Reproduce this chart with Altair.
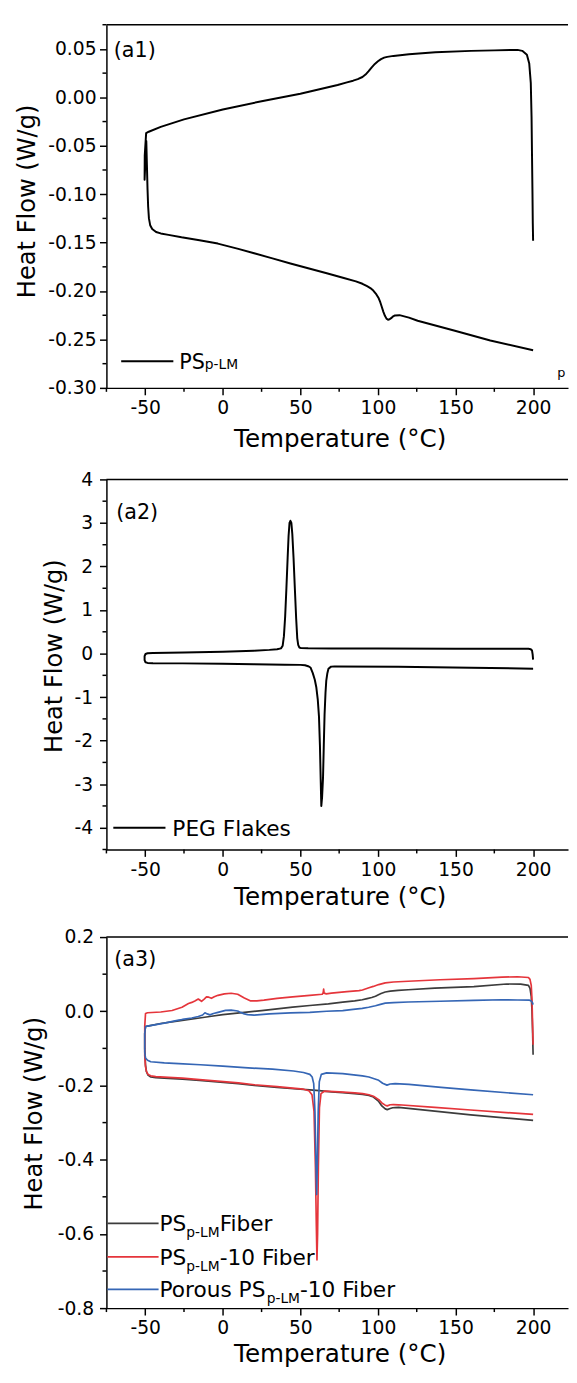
import altair as alt
import pandas as pd

FONT = "DejaVu Sans"
MINUS = "\u2212"

# ---------------- (a1) PS p-LM : one closed DSC path (cool then heat) ----------------
A1_T = [200, 199.8, 199.6, 199.3, 199.0, 198.5, 197.5, 196, 193, 190, 175, 160, 137, 120, 110, 106,
        104, 102, 100, 98, 96, 94, 92, 90, 87, 84, 80, 74, 50, 25, 0, -25, -40, -47.7, -49.4, -50.3,
        -50.4, -49.3, -48.9, -48.5, -48.1, -47.6, -46.8, -45.5, -43, -40, -35, -26.6, -15, -3.2, 10,
        20.2, 32, 43.6, 55, 67, 78, 85.8, 90, 93, 95.1, 97, 99, 100.5, 101.5, 102.5, 103.5, 104.5,
        105.5, 106.5, 107.5, 108.5, 109.5, 111, 113.9, 120, 125.6, 149, 172.4, 200]
A1_HF = [-0.148, -0.13, -0.10, -0.06, -0.02, 0.015, 0.035, 0.044, 0.048, 0.049, 0.0485, 0.048,
         0.0466, 0.0445, 0.0428, 0.0418, 0.0410, 0.0395, 0.0372, 0.0345, 0.031, 0.027, 0.0235,
         0.021, 0.0188, 0.0172, 0.0155, 0.0128, 0.0037, -0.004, -0.0126, -0.0227, -0.0305, -0.0355,
         -0.037, -0.06, -0.085, -0.045, -0.07, -0.095, -0.113, -0.125, -0.132, -0.136, -0.139,
         -0.1405, -0.142, -0.1445, -0.1475, -0.151, -0.1565, -0.161, -0.1663, -0.1715, -0.1765,
         -0.1817, -0.1865, -0.190, -0.1925, -0.195, -0.1969, -0.1995, -0.2035, -0.2075, -0.2115,
         -0.2165, -0.2215, -0.2256, -0.2285, -0.2296, -0.2292, -0.228, -0.2265, -0.2252, -0.2249,
         -0.2275, -0.2307, -0.2408, -0.251, -0.2611]

# ---------------- (a2) PEG flakes ----------------
A2_T = [200, 199.7, 199.3, 198.5, 197, 150, 100, 70, 55, 50.5, 49.3, 48.6, 48.0, 47.3, 46.5, 45.6,
        44.8, 44.2, 43.6, 43.0, 42.4, 41.8, 41.0, 40.2, 39.4, 38.6, 37.5, 35, 30, 20, 0, -25, -45,
        -48.5, -49.8, -50.4, -50.4, -49.8, -48.5, -45, -26, 0, 20, 40, 50, 53, 55, 56.5, 58, 59.3,
        60.3, 61.2, 62.0, 62.6, 63.1, 63.5, 64.0, 64.6, 65.1, 65.6, 66.2, 66.7, 67.4, 68.1, 69.8,
        72, 113, 160, 200]
A2_HF = [-0.14, -0.02, 0.07, 0.10, 0.11, 0.11, 0.115, 0.118, 0.12, 0.125, 0.14, 0.2, 0.35, 0.8,
         1.45, 2.2, 2.75, 3.0, 3.05, 3.0, 2.7, 2.2, 1.5, 0.85, 0.4, 0.18, 0.12, 0.10, 0.085, 0.065,
         0.04, 0.022, 0.012, 0.006, -0.01, -0.06, -0.15, -0.2, -0.215, -0.22, -0.225, -0.235,
         -0.245, -0.255, -0.26, -0.27, -0.29, -0.32, -0.45, -0.6, -0.78, -1.05, -1.45, -2.1, -2.9,
         -3.5, -3.3, -2.85, -2.1, -1.4, -0.9, -0.62, -0.45, -0.35, -0.3, -0.295, -0.305, -0.325,
         -0.348]

# ---------------- (a3) fibers ----------------
A3_FIBER_T = [200, 199.7, 199.3, 198.8, 198, 197, 192, 183, 161.8, 136.6, 119.5, 113, 108, 104.7,
              102, 100, 98.4, 96, 93, 89.9, 85, 77.3, 68, 56.1, 45, 35, 25, 13.9, 0, -7.3, -15,
              -28.4, -40, -48.5, -49.8, -50.3, -50.3, -49.8, -49.2, -48.2, -46.4, -43.2, -35, -26,
              -15, -7.3, 10, 20.4, 35, 43.6, 56.1, 62.2, 70, 77.3, 85, 90.1, 94.2, 97.1, 100.5,
              102.5, 104.7, 106, 107.9, 109.5, 111, 113.3, 136.6, 159.8, 200]
A3_FIBER_HF = [-0.117, -0.06, 0.0, 0.04, 0.062, 0.070, 0.073, 0.0735, 0.0666, 0.0625, 0.058,
               0.0565, 0.0545, 0.052, 0.048, 0.044, 0.0405, 0.037, 0.034, 0.031, 0.028, 0.0245,
               0.020, 0.0155, 0.011, 0.0065, 0.002, -0.003, -0.009, -0.0135, -0.018, -0.026,
               -0.033, -0.04, -0.041, -0.06, -0.1, -0.145, -0.163, -0.172, -0.177, -0.179, -0.181,
               -0.183, -0.186, -0.189, -0.195, -0.2, -0.205, -0.208, -0.212, -0.214, -0.217,
               -0.219, -0.222, -0.224, -0.227, -0.231, -0.243, -0.255, -0.263, -0.265, -0.262,
               -0.26, -0.2595, -0.259, -0.269, -0.279, -0.294]

A3_TEN_T = [200, 199.7, 199.3, 198.8, 198, 197, 190, 180, 161.8, 140, 119.5, 110, 104.7, 100.5, 97,
            94.2, 90, 87.8, 80, 70, 66.7, 65.3, 65.0, 64.7, 64.1, 56.1, 45, 35, 26.5, 22, 18, 13.9,
            9.6, 5.4, 1, -3.1, -5.5, -7.3, -9, -10.5, -12, -13.7, -15.8, -18, -20, -22.1, -26.3,
            -32.7, -40, -48.5, -49.8, -50.3, -50.3, -49.8, -49.2, -48.2, -46.4, -43.2, -35, -26,
            -15, -7.3, 10, 20.4, 35, 45, 52, 55.5, 57.5, 58.8, 59.7, 60.3, 60.7, 61.1, 61.6, 62.3,
            63.3, 65.7, 75, 85, 90.1, 94.2, 97.1, 100.5, 102.5, 104.7, 106, 107.9, 110, 113.3,
            136.6, 159.8, 200]
A3_TEN_HF = [-0.09, -0.04, 0.03, 0.07, 0.086, 0.091, 0.093, 0.092, 0.0882, 0.085, 0.081, 0.079,
             0.0767, 0.072, 0.067, 0.0635, 0.0575, 0.0555, 0.053, 0.049, 0.047, 0.049, 0.060,
             0.050, 0.046, 0.043, 0.039, 0.035, 0.030, 0.028, 0.028, 0.036, 0.046, 0.0485, 0.047,
             0.043, 0.039, 0.035, 0.038, 0.039, 0.033, 0.027, 0.033, 0.028, 0.024, 0.021, 0.011,
             0.002, -0.002, -0.004, -0.006, -0.04, -0.12, -0.15, -0.162, -0.17, -0.174, -0.176,
             -0.178, -0.18, -0.184, -0.187, -0.193, -0.198, -0.203, -0.207, -0.210, -0.214,
             -0.225, -0.27, -0.42, -0.58, -0.67, -0.6, -0.42, -0.26, -0.222, -0.215, -0.217,
             -0.220, -0.222, -0.225, -0.229, -0.238, -0.247, -0.253, -0.255, -0.252, -0.2515,
             -0.252, -0.259, -0.266, -0.278]

A3_POROUS_T = [200, 199.5, 198.8, 197.7, 190, 180, 161.8, 140, 119.5, 110, 104.7, 101, 98.4, 94,
               89.9, 84, 77.3, 66.9, 56.1, 43.6, 30, 20.2, 16, 13.9, 11.5, 9.6, 5.4, 1.8, -3.1, -6,
               -8.3, -10, -11.5, -13, -15.8, -20, -26, -28.4, -37.7, -48.5, -49.8, -50.3, -50.3,
               -49.8, -48.5, -46.4, -37.7, -28.4, -14.5, 0, 13.9, 32, 45.6, 52, 56.1, 57.6, 58.6,
               59.4, 60.0, 60.5, 61.0, 61.5, 62.2, 63.5, 66.9, 77.3, 90, 94.2, 97.1, 100.5, 103,
               105.8, 107.9, 111.1, 120, 140.7, 159.8, 200]
A3_POROUS_HF = [0.018, 0.024, 0.028, 0.030, 0.0305, 0.031, 0.0296, 0.027, 0.025, 0.0235, 0.022,
                0.018, 0.015, 0.011, 0.008, 0.005, 0.002, 0.0, -0.003, -0.0045, -0.007, -0.0105,
                -0.009, -0.007, -0.003, 0.0008, 0.003, 0.0025, -0.003, -0.006, -0.0096, -0.007,
                -0.004, -0.01, -0.014, -0.018, -0.022, -0.024, -0.032, -0.04, -0.041, -0.06, -0.11,
                -0.126, -0.132, -0.136, -0.139, -0.141, -0.144, -0.148, -0.152, -0.156, -0.161,
                -0.165, -0.170, -0.177, -0.195, -0.27, -0.4, -0.494, -0.4, -0.27, -0.19, -0.17,
                -0.166, -0.168, -0.174, -0.177, -0.181, -0.186, -0.194, -0.199, -0.196, -0.195,
                -0.197, -0.205, -0.212, -0.225]

# ---------------- axes ----------------
X_DOMAIN = [-75, 222.5]
X_MAJOR = [-50, 0, 50, 100, 150, 200]
X_MINOR = [-75, -25, 25, 75, 125, 175]

A1_Y_DOMAIN = [-0.30, 0.075]
A1_Y_MAJOR = [-0.30, -0.25, -0.20, -0.15, -0.10, -0.05, 0.00, 0.05]
A1_Y_MINOR = [-0.275, -0.225, -0.175, -0.125, -0.075, -0.025, 0.025, 0.075]

A2_Y_DOMAIN = [-4.5, 4]
A2_Y_MAJOR = [-4, -3, -2, -1, 0, 1, 2, 3, 4]
A2_Y_MINOR = [-4.5, -3.5, -2.5, -1.5, -0.5, 0.5, 1.5, 2.5, 3.5]

A3_Y_DOMAIN = [-0.8, 0.2]
A3_Y_MAJOR = [-0.8, -0.6, -0.4, -0.2, 0.0, 0.2]
A3_Y_MINOR = [-0.7, -0.5, -0.3, -0.1, 0.1]

X_TITLE = "Temperature (°C)"
Y_TITLE = "Heat Flow (W/g)"

A3_COLORS = ["#3c3c3c", "#e5353b", "#3566b5"]

# DejaVu Sans advance widths (em) for legend text composition
ADV = {" ": 0.318, "-": 0.361, ".": 0.318, "0": 0.636, "1": 0.636, "P": 0.603, "S": 0.635,
       "F": 0.575, "E": 0.632, "G": 0.775, "L": 0.557, "M": 0.863, "a": 0.613, "b": 0.635,
       "e": 0.615, "i": 0.278, "k": 0.579, "l": 0.278, "o": 0.612, "p": 0.635, "r": 0.411,
       "s": 0.521, "u": 0.634}


def tw(s, size):
    return sum(ADV.get(c, 0.6) for c in s) * size


W = 469
ONE = pd.DataFrame({"k": [0]})


def path_df(T, HF):
    return pd.DataFrame({"T": T, "HF": HF, "i": list(range(len(T)))})


def txt(s, x, y, size, font=FONT):
    return alt.Chart(ONE).mark_text(text=s, align="left", baseline="alphabetic", font=font,
                                    fontSize=size, color="black").encode(
        x=alt.value(x), y=alt.value(y))


def hrule(x0, x1, y, color, width=1.8):
    return alt.Chart(ONE).mark_rule(color=color, strokeWidth=width).encode(
        x=alt.value(x0), x2=alt.value(x1), y=alt.value(y))


def panel(series, y_domain, y_major, y_minor, y_fmt, H, ylab_pad, ytitle_x, xtitle_y, extras):
    xs = alt.Scale(domain=X_DOMAIN, nice=False, zero=False)
    ys = alt.Scale(domain=y_domain, nice=False, zero=False)
    common = dict(domainColor="black", domainWidth=1.5, tickColor="black", tickWidth=1.5,
                  tickSize=7, labelColor="black", labelFont=FONT, labelFontSize=19,
                  titleFont=FONT, titleColor="black", titleFontWeight="normal", grid=False,
                  labelOverlap=False, labelFlush=False, titleBaseline="middle")
    x_axis = alt.Axis(values=X_MAJOR, title=X_TITLE, titleFontSize=25, titleX=237,
                      titleY=xtitle_y, labelPadding=4,
                      labelExpr=f"replace(format(datum.value, 'd'), '{MINUS}', '-')", **common)
    y_axis = alt.Axis(values=y_major, title=Y_TITLE, titleFontSize=24.5, titleAngle=270,
                      titleX=ytitle_x, titleY=179, labelPadding=ylab_pad,
                      labelExpr=f"replace(format(datum.value, '{y_fmt}'), '{MINUS}', '-')",
                      **common)

    layers = []
    layers.append(hrule(0, W, 0, "black", 1.5))
    layers.append(alt.Chart(pd.DataFrame({"t": X_MINOR})).mark_rule(
        color="black", strokeWidth=1.5).encode(
        x=alt.X("t:Q", scale=xs, axis=x_axis), y=alt.value(H), y2=alt.value(H + 4)))
    layers.append(alt.Chart(pd.DataFrame({"v": y_minor})).mark_rule(
        color="black", strokeWidth=1.5).encode(
        y=alt.Y("v:Q", scale=ys, axis=y_axis), x=alt.value(-4), x2=alt.value(0)))
    for df, color, sw in series:
        layers.append(alt.Chart(df).mark_line(color=color, strokeWidth=sw, clip=True,
                                              strokeJoin="round").encode(
            x=alt.X("T:Q", scale=xs, axis=x_axis),
            y=alt.Y("HF:Q", scale=ys, axis=y_axis),
            order=alt.Order("i:Q")))
    layers.extend(extras)
    return alt.layer(*layers).properties(width=W, height=H)


# ---- panel 1 ----
H1 = 369
p1_extras = [
    txt("(a1)", 7.5, 32.6, 21),
    hrule(15, 68, 342, "black", 2),
    txt("PS", 74, 349.5, 21),
    txt("p-LM", 74 + tw("PS", 21), 349.5, 14),
    txt("p", 458, 358, 13),
]
p1 = panel([(path_df(A1_T, A1_HF), "black", 2.0)], A1_Y_DOMAIN, A1_Y_MAJOR, A1_Y_MINOR, ".2f",
           H1, 3.5, -80, 52, p1_extras)

# ---- panel 2 ----
H2 = 376
p2_extras = [
    txt("(a2)", 10, 40, 21),
    hrule(7, 60, 354, "black", 2),
    txt("PEG Flakes", 67, 362.5, 22),
]
p2 = panel([(path_df(A2_T, A2_HF), "black", 2.0)], A2_Y_DOMAIN, A2_Y_MAJOR, A2_Y_MINOR, ".0f",
           H2, 7, -53, 48, p2_extras)

# ---- panel 3 ----
H3 = 377
p3_extras = [txt("(a3)", 8, 29, 21)]
legend_rows = [
    (291, A3_COLORS[0], "PS", "Fiber"),
    (325, A3_COLORS[1], "PS", "-10 Fiber"),
    (358, A3_COLORS[2], "Porous PS", "-10 Fiber"),
]
for ly, col, pre, post in legend_rows:
    p3_extras.append(hrule(1, 53, ly, col, 1.8))
    x0 = 54
    p3_extras.append(txt(pre, x0, ly + 7.7, 22))
    x1 = x0 + tw(pre, 22)
    p3_extras.append(txt("p-LM", x1, ly + 14, 14))
    x2 = x1 + tw("p-LM", 14)
    p3_extras.append(txt(post, x2, ly + 7.7, 22))

p3 = panel([(path_df(A3_FIBER_T, A3_FIBER_HF), A3_COLORS[0], 1.7),
            (path_df(A3_TEN_T, A3_TEN_HF), A3_COLORS[1], 1.7),
            (path_df(A3_POROUS_T, A3_POROUS_HF), A3_COLORS[2], 1.7)],
           A3_Y_DOMAIN, A3_Y_MAJOR, A3_Y_MINOR, ".1f", H3, 6, -73, 46, p3_extras)

chart = alt.concat(p1, p2, p3, columns=1, spacing=19, align="each").properties(
    padding={"left": 7, "top": 5, "right": 0, "bottom": 0}, background="white"
).configure_view(stroke=None)

chart.save("out.html", embed_options={"renderer": "svg", "actions": False})
